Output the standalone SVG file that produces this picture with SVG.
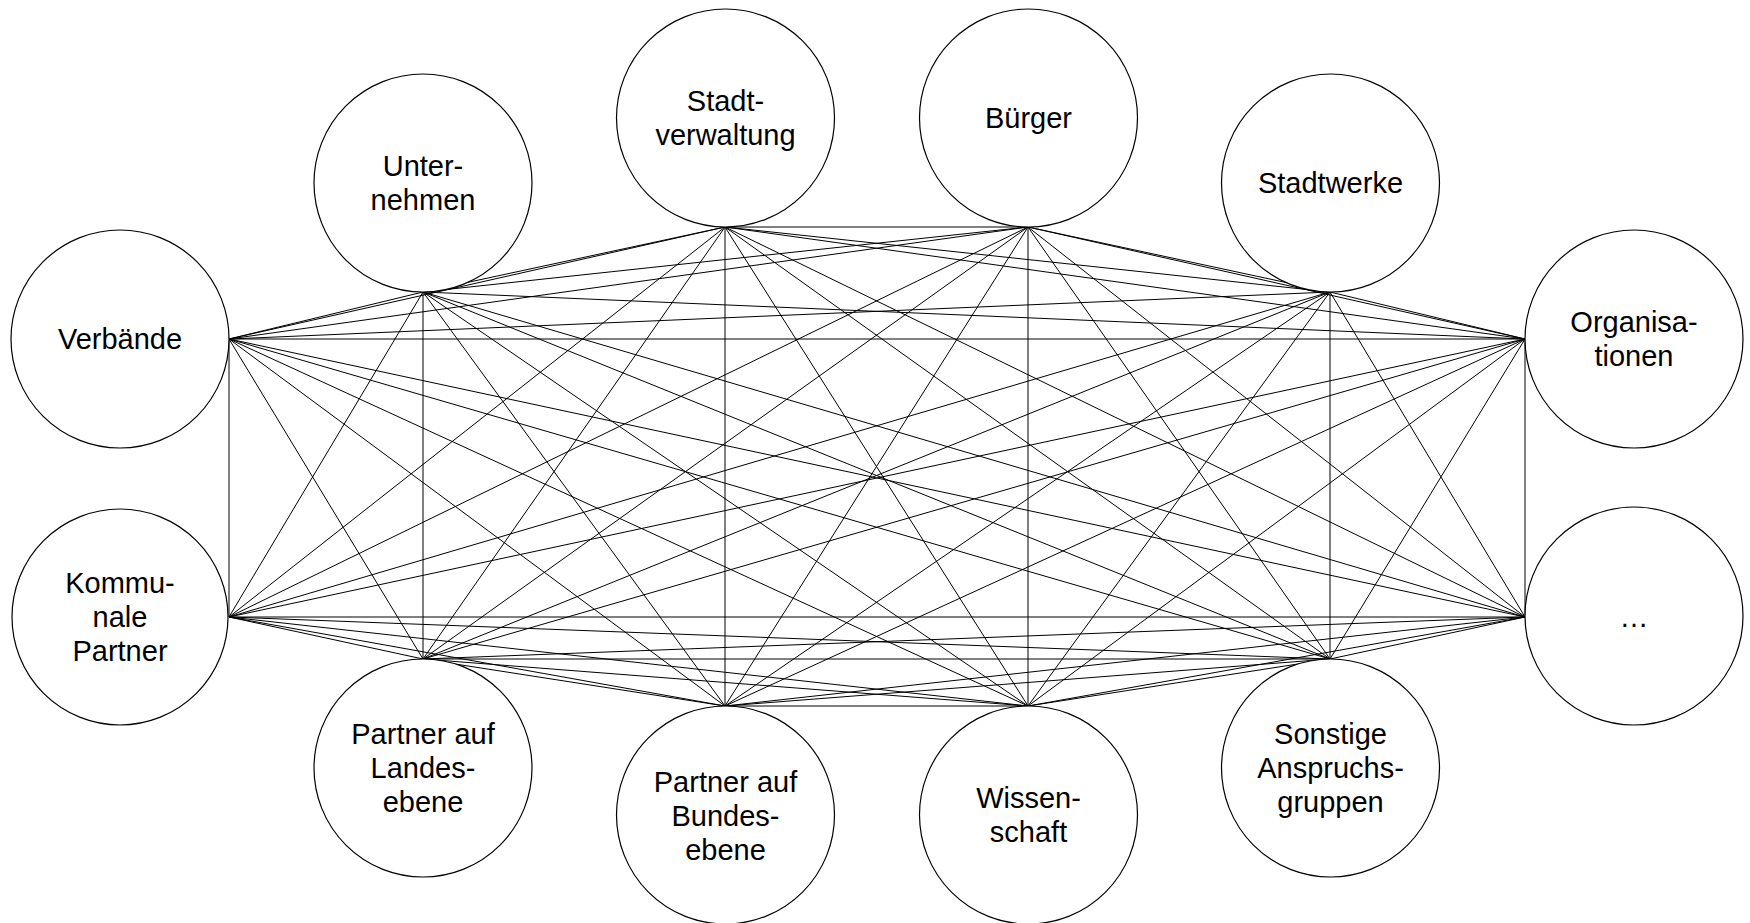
<svg xmlns="http://www.w3.org/2000/svg" width="1750" height="923" viewBox="0 0 1750 923">
  <style>
    .edge { stroke: #000; stroke-width: 1; fill: none; }
    .node circle { fill: #fff; stroke: #000; stroke-width: 1.2; }
    .node text { font-family: "Liberation Sans", Arial, sans-serif; font-size: 29px; fill: #000; text-anchor: middle; }
  </style>
  <rect width="1750" height="923" fill="#fff"/>

  <!-- links between the stakeholders (Unternehmen and Stadtwerke are not linked) -->
  <g id="connectors" class="edge">
    <!-- Stadtverwaltung -->
    <line x1="725" y1="227" x2="1028" y2="227"/>
    <line x1="725" y1="227" x2="423" y2="292"/>
    <line x1="725" y1="227" x2="1330" y2="292"/>
    <line x1="725" y1="227" x2="229" y2="339"/>
    <line x1="725" y1="227" x2="1525" y2="339"/>
    <line x1="725" y1="227" x2="229" y2="617"/>
    <line x1="725" y1="227" x2="1525" y2="617"/>
    <line x1="725" y1="227" x2="423" y2="659"/>
    <line x1="725" y1="227" x2="1330" y2="659"/>
    <line x1="725" y1="227" x2="725" y2="706"/>
    <line x1="725" y1="227" x2="1028" y2="706"/>
    <!-- Bürger -->
    <line x1="1028" y1="227" x2="423" y2="292"/>
    <line x1="1028" y1="227" x2="1330" y2="292"/>
    <line x1="1028" y1="227" x2="229" y2="339"/>
    <line x1="1028" y1="227" x2="1525" y2="339"/>
    <line x1="1028" y1="227" x2="229" y2="617"/>
    <line x1="1028" y1="227" x2="1525" y2="617"/>
    <line x1="1028" y1="227" x2="423" y2="659"/>
    <line x1="1028" y1="227" x2="1330" y2="659"/>
    <line x1="1028" y1="227" x2="725" y2="706"/>
    <line x1="1028" y1="227" x2="1028" y2="706"/>
    <!-- Unternehmen -->
    <line x1="423" y1="292" x2="229" y2="339"/>
    <line x1="423" y1="292" x2="1525" y2="339"/>
    <line x1="423" y1="292" x2="229" y2="617"/>
    <line x1="423" y1="292" x2="1525" y2="617"/>
    <line x1="423" y1="292" x2="423" y2="659"/>
    <line x1="423" y1="292" x2="1330" y2="659"/>
    <line x1="423" y1="292" x2="725" y2="706"/>
    <line x1="423" y1="292" x2="1028" y2="706"/>
    <!-- Stadtwerke -->
    <line x1="1330" y1="292" x2="229" y2="339"/>
    <line x1="1330" y1="292" x2="1525" y2="339"/>
    <line x1="1330" y1="292" x2="229" y2="617"/>
    <line x1="1330" y1="292" x2="1525" y2="617"/>
    <line x1="1330" y1="292" x2="423" y2="659"/>
    <line x1="1330" y1="292" x2="1330" y2="659"/>
    <line x1="1330" y1="292" x2="725" y2="706"/>
    <line x1="1330" y1="292" x2="1028" y2="706"/>
    <!-- Verbände -->
    <line x1="229" y1="339" x2="1525" y2="339"/>
    <line x1="229" y1="339" x2="229" y2="617"/>
    <line x1="229" y1="339" x2="1525" y2="617"/>
    <line x1="229" y1="339" x2="423" y2="659"/>
    <line x1="229" y1="339" x2="1330" y2="659"/>
    <line x1="229" y1="339" x2="725" y2="706"/>
    <line x1="229" y1="339" x2="1028" y2="706"/>
    <!-- Organisationen -->
    <line x1="1525" y1="339" x2="229" y2="617"/>
    <line x1="1525" y1="339" x2="1525" y2="617"/>
    <line x1="1525" y1="339" x2="423" y2="659"/>
    <line x1="1525" y1="339" x2="1330" y2="659"/>
    <line x1="1525" y1="339" x2="725" y2="706"/>
    <line x1="1525" y1="339" x2="1028" y2="706"/>
    <!-- Kommunale Partner -->
    <line x1="229" y1="617" x2="1525" y2="617"/>
    <line x1="229" y1="617" x2="423" y2="659"/>
    <line x1="229" y1="617" x2="1330" y2="659"/>
    <line x1="229" y1="617" x2="725" y2="706"/>
    <line x1="229" y1="617" x2="1028" y2="706"/>
    <!-- … -->
    <line x1="1525" y1="617" x2="423" y2="659"/>
    <line x1="1525" y1="617" x2="1330" y2="659"/>
    <line x1="1525" y1="617" x2="725" y2="706"/>
    <line x1="1525" y1="617" x2="1028" y2="706"/>
    <!-- Partner auf Landesebene -->
    <line x1="423" y1="659" x2="1330" y2="659"/>
    <line x1="423" y1="659" x2="725" y2="706"/>
    <line x1="423" y1="659" x2="1028" y2="706"/>
    <!-- Sonstige Anspruchsgruppen -->
    <line x1="1330" y1="659" x2="725" y2="706"/>
    <line x1="1330" y1="659" x2="1028" y2="706"/>
    <!-- Partner auf Bundesebene -->
    <line x1="725" y1="706" x2="1028" y2="706"/>
  </g>

  <g id="stadtverwaltung" class="node">
    <circle cx="725.5" cy="118" r="109"/>
    <text x="725.5" y="111">Stadt-</text>
    <text x="725.5" y="145">verwaltung</text>
  </g>
  <g id="buerger" class="node">
    <circle cx="1028.5" cy="118" r="109"/>
    <text x="1028.5" y="128">Bürger</text>
  </g>
  <g id="unternehmen" class="node">
    <circle cx="423" cy="183" r="109"/>
    <text x="423" y="176">Unter-</text>
    <text x="423" y="210">nehmen</text>
  </g>
  <g id="stadtwerke" class="node">
    <circle cx="1330.5" cy="183" r="109"/>
    <text x="1330.5" y="193">Stadtwerke</text>
  </g>
  <g id="verbaende" class="node">
    <circle cx="120" cy="339" r="109"/>
    <text x="120" y="349">Verbände</text>
  </g>
  <g id="organisationen" class="node">
    <circle cx="1634" cy="339" r="109"/>
    <text x="1634" y="332">Organisa-</text>
    <text x="1634" y="366">tionen</text>
  </g>
  <g id="kommunale-partner" class="node">
    <circle cx="120" cy="617" r="108"/>
    <text x="120" y="593">Kommu-</text>
    <text x="120" y="627">nale</text>
    <text x="120" y="661">Partner</text>
  </g>
  <g id="weitere" class="node">
    <circle cx="1634" cy="616" r="109"/>
    <text x="1634" y="627">…</text>
  </g>
  <g id="partner-landesebene" class="node">
    <circle cx="423" cy="768" r="109"/>
    <text x="423" y="744">Partner auf</text>
    <text x="423" y="778">Landes-</text>
    <text x="423" y="812">ebene</text>
  </g>
  <g id="sonstige-anspruchsgruppen" class="node">
    <circle cx="1330.5" cy="768" r="109"/>
    <text x="1330.5" y="744">Sonstige</text>
    <text x="1330.5" y="778">Anspruchs-</text>
    <text x="1330.5" y="812">gruppen</text>
  </g>
  <g id="partner-bundesebene" class="node">
    <circle cx="725.5" cy="815" r="109"/>
    <text x="725.5" y="792">Partner auf</text>
    <text x="725.5" y="826">Bundes-</text>
    <text x="725.5" y="860">ebene</text>
  </g>
  <g id="wissenschaft" class="node">
    <circle cx="1028.5" cy="815" r="109"/>
    <text x="1028.5" y="808">Wissen-</text>
    <text x="1028.5" y="842">schaft</text>
  </g>
</svg>
